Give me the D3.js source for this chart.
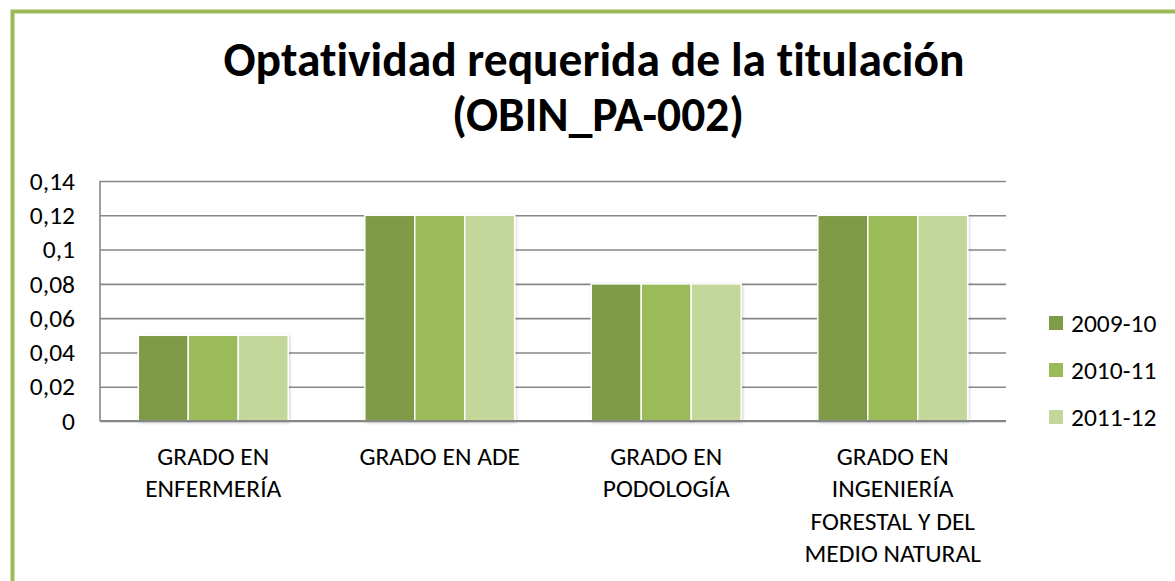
<!DOCTYPE html>
<html>
<head>
<meta charset="utf-8">
<script src="https://cdn.jsdelivr.net/npm/d3@7"></script>
<style>
  html, body { margin: 0; padding: 0; background: #fff; }
  svg text { font-family: Carlito, Lato, "Open Sans", sans-serif; fill: #000; font-variant-ligatures: none; }
</style>
</head>
<body>
<div id="chart"></div>
<script>
const categories = [
  'GRADO EN\nENFERMERÍA',
  'GRADO EN ADE',
  'GRADO EN\nPODOLOGÍA',
  'GRADO EN\nINGENIERÍA\nFORESTAL Y DEL\nMEDIO NATURAL'
];
const seriesNames = ['2009-10', '2010-11', '2011-12'];
const values2009 = [0.05, 0.12, 0.08, 0.12];
const values2010 = [0.05, 0.12, 0.08, 0.12];
const values2011 = [0.05, 0.12, 0.08, 0.12];
const yTicks = [0, 0.02, 0.04, 0.06, 0.08, 0.1, 0.12, 0.14];
const colors = ['#7F9B47', '#9BBB59', '#C4D79B'];

const seriesValues = [values2009, values2010, values2011];
const tableData = categories.map((c, i) => ({
  category: c,
  values: seriesNames.map((s, j) => ({ series: s, value: seriesValues[j][i] }))
}));

const width = 1175, height = 581;
const plot = { left: 100, right: 1006, top: 181, bottom: 421 };
const labelSize = '25.5px';

const svg = d3.select('#chart')
  .append('svg')
    .attr('width', width)
    .attr('height', height);

// outer green frame of the chart
svg.append('rect')
  .attr('x', 12.5)
  .attr('y', 11.5)
  .attr('width', 1300)
  .attr('height', 700)
  .attr('fill', '#fff')
  .attr('stroke', '#9BBB59')
  .attr('stroke-width', 4);

const defs = svg.append('defs');
defs.append('filter')
  .attr('id', 'shadow')
  .attr('x', '-20%').attr('y', '-20%').attr('width', '140%').attr('height', '140%')
  .append('feDropShadow')
    .attr('dx', 1).attr('dy', 1).attr('stdDeviation', 1.5)
    .attr('flood-color', '#000').attr('flood-opacity', 0.18);

// title
const title = svg.append('text')
  .attr('text-anchor', 'middle')
  .style('font-weight', 'bold')
  .style('font-size', '47.5px');
title.append('tspan').attr('x', 594).attr('y', 76).text('Optatividad requerida de la titulación');
title.append('tspan').attr('x', 598).attr('y', 131).text('(OBIN_PA-002)');

const yScale = d3.scaleLinear()
  .domain([0, 0.14])
  .range([plot.bottom, plot.top]);

const x0 = d3.scaleBand()
  .domain(categories)
  .range([plot.left, plot.right])
  .paddingInner(0.338)
  .paddingOuter(0.169);

const x1 = d3.scaleBand()
  .domain(seriesNames)
  .range([0, x0.bandwidth()]);

const color = d3.scaleOrdinal().domain(seriesNames).range(colors);

const esLocale = d3.formatLocale({ decimal: ',', thousands: '.', grouping: [3], currency: ['', '€'] });
const fmt = esLocale.format('.2~f');

// gridlines
svg.append('g')
  .attr('transform', 'translate(' + plot.left + ',0)')
  .call(d3.axisLeft(yScale)
    .tickValues(yTicks)
    .tickSize(-(plot.right - plot.left))
    .tickFormat(''))
  .call(g => g.select('.domain').remove())
  .call(g => g.selectAll('line')
    .attr('stroke', '#878787')
    .attr('stroke-width', 1.6));

// y tick labels
svg.append('g')
  .attr('transform', 'translate(' + plot.left + ',0)')
  .call(d3.axisLeft(yScale)
    .tickValues(yTicks)
    .tickSize(0)
    .tickPadding(25)
    .tickFormat(fmt))
  .call(g => g.select('.domain').remove())
  .call(g => g.selectAll('text')
    .attr('fill', '#000')
    .style('font-size', labelSize)
    .style('font-family', 'Carlito, Lato, sans-serif'));

// bars
const groups = svg.append('g')
  .selectAll('g')
  .data(tableData)
  .enter()
  .append('g')
    .attr('transform', d => 'translate(' + x0(d.category) + ',0)');

groups.selectAll('rect')
  .data(d => d.values)
  .enter()
  .append('rect')
    .attr('x', d => x1(d.series))
    .attr('y', d => yScale(d.value))
    .attr('width', x1.bandwidth())
    .attr('height', d => plot.bottom - yScale(d.value))
    .attr('fill', d => color(d.series))
    .attr('stroke', '#fff')
    .attr('stroke-width', 1.5)
    .attr('filter', 'url(#shadow)');

// axis lines
svg.append('line')
  .attr('x1', plot.left).attr('x2', plot.left)
  .attr('y1', plot.top).attr('y2', plot.bottom)
  .attr('stroke', '#878787').attr('stroke-width', 1.6);
svg.append('line')
  .attr('x1', plot.left).attr('x2', plot.right)
  .attr('y1', plot.bottom).attr('y2', plot.bottom)
  .attr('stroke', '#878787').attr('stroke-width', 2);

// category labels
const catLabels = svg.append('g')
  .selectAll('text')
  .data(categories)
  .enter()
  .append('text')
    .attr('text-anchor', 'middle')
    .style('font-size', labelSize);

catLabels.each(function(d) {
  const cx = x0(d) + x0.bandwidth() / 2;
  d.split('\n').forEach((line, i) => {
    d3.select(this).append('tspan')
      .attr('x', cx)
      .attr('y', 465 + i * 32.4)
      .text(line);
  });
});

// legend
const legend = svg.append('g')
  .selectAll('g')
  .data(seriesNames)
  .enter()
  .append('g')
    .attr('transform', (d, i) => 'translate(1049,' + (323 + i * 47) + ')');

legend.append('rect')
  .attr('x', 0)
  .attr('y', -7)
  .attr('width', 14)
  .attr('height', 14)
  .attr('fill', d => color(d));

legend.append('text')
  .attr('x', 22)
  .attr('dy', '0.35em')
  .style('font-size', labelSize)
  .text(d => d);
</script>
</body>
</html>
